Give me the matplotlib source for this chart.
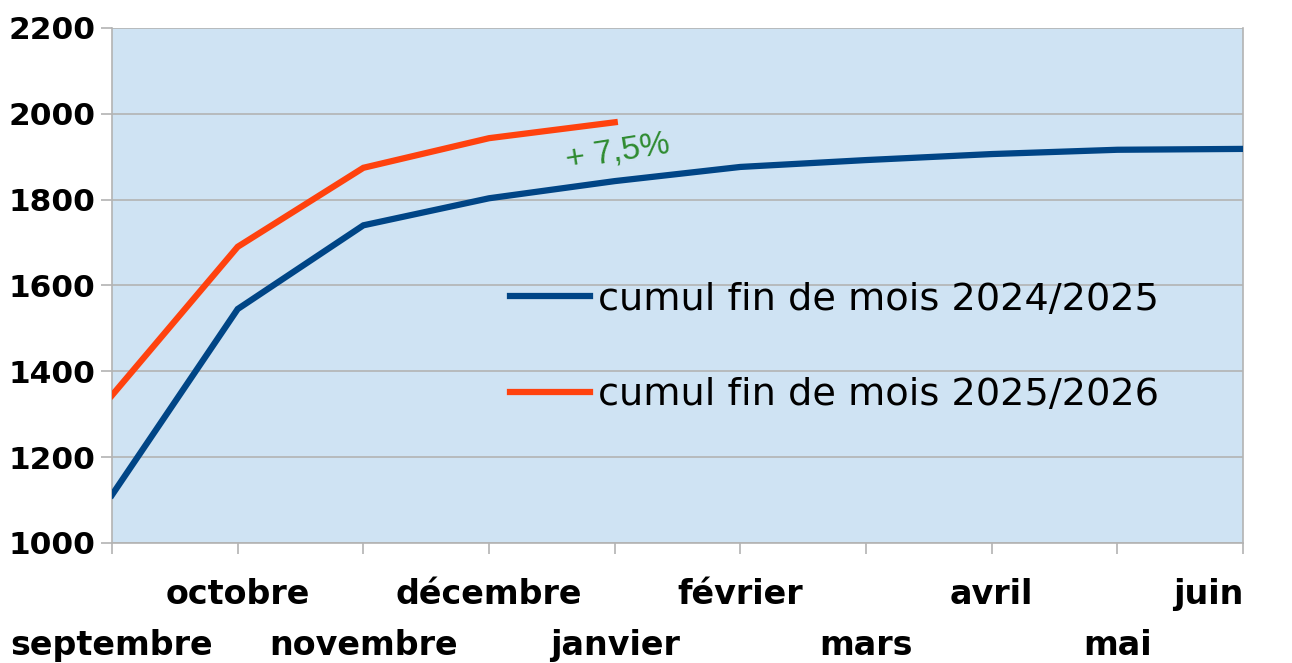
import numpy as np
import matplotlib

matplotlib.use('Agg')

import matplotlib.pyplot as plt

# month labels (school year)
months = ['septembre', 'octobre', 'novembre', 'décembre', 'janvier',
          'février', 'mars', 'avril', 'mai', 'juin']

# cumulative totals at month end
cumul_2024_2025 = [1112, 1545, 1740, 1803, 1843, 1876, 1892, 1906, 1916, 1918]
cumul_2025_2026 = [1344, 1690, 1874, 1943, 1980]

label_2024 = 'cumul fin de mois 2024/2025'
label_2025 = 'cumul fin de mois 2025/2026'
annotation = '+ 7,5%'

fig = plt.figure(figsize=(12.92, 6.63), dpi=100)
ax = fig.add_axes([0.0867, 0.181, 0.8755, 0.777])
ax.set_facecolor('#cfe3f3')

x = np.arange(len(months))
ax.plot(x, cumul_2024_2025, color='#004586', linewidth=4.5, label=label_2024,
        solid_joinstyle='miter', zorder=3)
ax.plot(x[:len(cumul_2025_2026)], cumul_2025_2026, color='#ff420e', linewidth=4.5,
        label=label_2025, solid_joinstyle='miter', zorder=3)

ax.set_xlim(0, len(months) - 1)
ax.set_ylim(1000, 2200)
ax.set_yticks(np.arange(1000, 2201, 200))
ax.yaxis.grid(True, color='#b3b3b3', linewidth=1.2)
ax.set_axisbelow(True)

for s in ax.spines.values():
    s.set_color('#b3b3b3')
    s.set_linewidth(1.2)
ax.spines['top'].set_visible(False)

ax.tick_params(axis='y', length=8, width=1.2, color='#b3b3b3', pad=4)
ax.tick_params(axis='x', length=8, width=1.2, color='#b3b3b3')
for lab in ax.get_yticklabels():
    lab.set_fontfamily('DejaVu Sans')
    lab.set_fontweight('bold')
    lab.set_fontsize(22.5)

ax.set_xticks(x)
ax.set_xticklabels(months, fontsize=24, fontweight='bold', family='DejaVu Sans')
# staggered month labels
for i, tick in enumerate(ax.xaxis.get_major_ticks()):
    tick.set_pad(54 if i % 2 == 0 else 17)
ax.get_xticklabels()[-1].set_ha('right')

ax.text(4.02, 1912, annotation, color='#2e8b30', fontsize=24,
        family='Liberation Sans', rotation=9, ha='center', va='center')

leg = ax.legend(loc='upper left', bbox_to_anchor=(0.352, 0.507), frameon=False,
                fontsize=27.5, handlelength=2.1, handletextpad=0.2,
                labelspacing=1.55, borderpad=0, borderaxespad=0)

fig.savefig('out.png', dpi=100)
